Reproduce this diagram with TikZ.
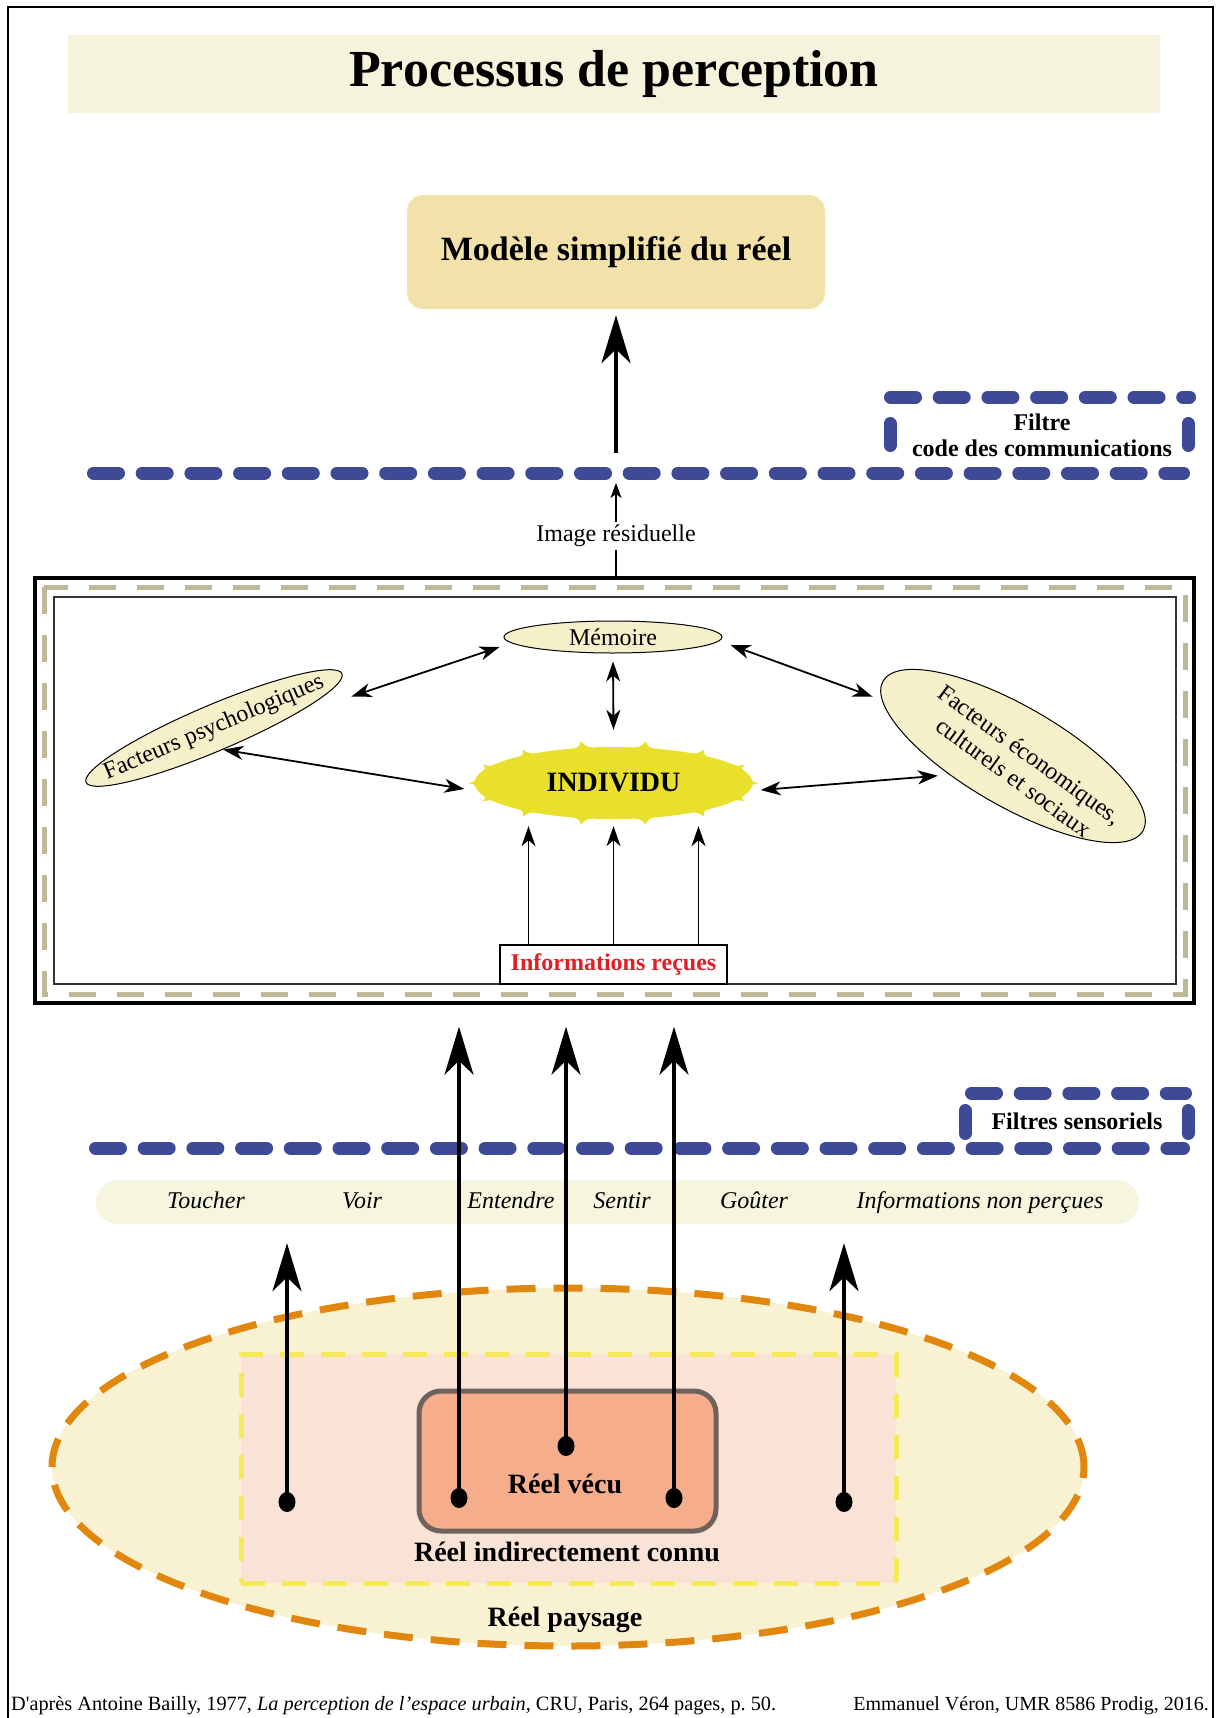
\documentclass[tikz,border=0pt]{standalone}
\usepackage{fontspec}
\setmainfont{Liberation Serif}
\usetikzlibrary{arrows.meta,shapes.geometric,calc}
\definecolor{titlebg}{HTML}{F6F3DC}
\definecolor{modelbg}{HTML}{F3E1AA}
\definecolor{filtblue}{HTML}{3E4A96}
\definecolor{framedash}{HTML}{BDB99A}
\definecolor{ellbg}{HTML}{F5F0C9}
\definecolor{indyel}{HTML}{E8E02A}
\definecolor{infored}{HTML}{E31E24}
\definecolor{sensebg}{HTML}{F6F6DF}
\definecolor{paysbg}{HTML}{F8F1D2}
\definecolor{paysline}{HTML}{E2870E}
\definecolor{indirbg}{HTML}{F9E2D6}
\definecolor{indirline}{HTML}{F7EA5A}
\definecolor{vecubg}{HTML}{F5AD8B}
\definecolor{veculine}{HTML}{6F625B}
\begin{document}
\begin{tikzpicture}[x=1pt,y=-1pt,
 txt/.style={font=\fontsize{24}{28}\selectfont, inner sep=0pt},
 btxt/.style={font=\fontsize{24}{26}\selectfont\bfseries, inner sep=0pt, align=center},
 bigtxt/.style={font=\fontsize{28}{32}\selectfont\bfseries, inner sep=0pt},
 filt/.style={line width=13pt, filtblue, dash pattern=on 25pt off 23.7pt, line cap=round},
 filtv/.style={line width=13pt, filtblue, line cap=round},
 bigarrow/.style={line width=3.5pt, -{Stealth[length=48pt,width=29pt,inset=14pt]}},
 dblarrow/.style={line width=1.8pt, {Stealth[length=20pt,width=14pt,inset=6pt]}-{Stealth[length=20pt,width=14pt,inset=6pt]}},
 uparrow/.style={line width=1.5pt, -{Stealth[length=20pt,width=14pt,inset=6pt]}},
 ell/.style={ellipse, draw, line width=1pt, fill=ellbg, inner sep=0pt, font=\fontsize{24}{28}\selectfont},
 blackdot/.style={ellipse, fill=black, minimum width=17pt, minimum height=20pt, inner sep=0pt},
 sense/.style={font=\fontsize{24}{28}\selectfont\itshape, inner sep=0pt, anchor=base},
]
\useasboundingbox (0,0) rectangle (1216,1718);
% outer frame
\draw[line width=2pt] (8,1718) -- (8,7) -- (1213,7) -- (1213,1718);

% title
\node[fill=titlebg, minimum width=1092pt, minimum height=78pt, inner sep=0pt,
      font=\fontsize{52}{56}\selectfont\bfseries] (title) at (614,74) {Processus de perception};

% model
\node[fill=modelbg, rounded corners=16pt, minimum width=418pt, minimum height=114pt, inner sep=0pt,
      font=\fontsize{34}{38}\selectfont\bfseries] (model) at (616,252) {Modèle simplifié du réel};

% upper filter
\draw[filt] (93.5,473) -- (1183.5,473);
\draw[filt] (890.5,397) -- (1189.5,397);
\draw[filtv] (890,423.5) -- (890,445.5);
\draw[filtv] (1188,423.5) -- (1188,445.5);
\node[btxt] (filtre) at (1042,435) {Filtre\\code des communications};

\coordinate (resid) at (616,453);
\draw[line width=4.5pt, -{Stealth[length=48pt,width=29pt,inset=14pt]}, shorten >=6pt] (resid) -- (model.south);

\node[txt, inner sep=3pt] (img) at (616,536) {Image résiduelle};
\coordinate (imgtip) at (616,483);
\draw[line width=1.3pt, -{Stealth[length=15pt,width=11pt,inset=4pt]}] (img.north) -- (imgtip);

% big frame
\node[draw, line width=3.5pt, minimum width=1159pt, minimum height=425pt, inner sep=0pt] (frame) at (614.5,790.5) {};
\draw[framedash, line width=5pt, dash pattern=on 27pt off 21pt] (44,587) rectangle (1185,994);
\draw[line width=1.8pt, black!80] (54,597) rectangle (1176,984);
\draw[line width=1.3pt] (img.south) -- (img.south |- frame.north);

% ellipses
\node[ell, minimum width=218pt, minimum height=32pt] (mem) at (613,637) {Mémoire};
\node[ell, minimum width=278pt, minimum height=46pt, rotate=23] (psych) at (214,728) {};
\node[txt, rotate=23] (psychtext) at (psych.center) {Facteurs psychologiques};
\node[ell, minimum width=300pt, minimum height=100pt, rotate=-30] (eco) at (1013,756) {};
\node[txt, align=center, rotate=-36] (ecotext) at (1022,766) {Facteurs économiques,\\culturels et sociaux};

% individu
\fill[indyel] plot[domain=0:360, samples=721]
  ({613.5+(139+7*(1-abs(sin(7*\x)))^6)*cos(\x)}, {783+(36+7*(1-abs(sin(7*\x)))^6)*sin(\x)}) -- cycle;
\node[ellipse, minimum width=290pt, minimum height=86pt, bigtxt] (ind) at (613.5,783) {INDIVIDU};

% informations reçues
\node[draw, line width=1.5pt, fill=white, minimum width=227pt, minimum height=39pt, inner sep=0pt,
      font=\fontsize{24}{26}\selectfont\bfseries, text=infored] (info) at (613.5,964.5) {Informations reçues};

\draw[dblarrow] ($(psych.east)+(9,23)$) -- ($(mem.west)+(-4,10)$);
\draw[dblarrow] (psych.south) -- ($(ind.west)+(-4,6)$);
\draw[dblarrow] ($(mem.south)+(0,8)$) -- ($(ind.north)+(0,-10)$);
\draw[dblarrow] ($(mem.east)+(8,8)$) -- ($(eco.west)+(-10,16)$);
\draw[dblarrow] ($(ind.east)+(2,7)$) -- ($(eco.south)+(-50,-24)$);
\foreach \dx in {-85,0,85}
  \draw[uparrow] ($(info.north)+(\dx,0)$) -- ($(ind.south)+(\dx,0)$);

% lower part: réel
\node[ellipse, draw=paysline, fill=paysbg, line width=7pt, dash pattern=on 29pt off 18pt,
      minimum width=1032pt, minimum height=358pt, inner sep=0pt] (paysage) at (568,1467) {};
\node[draw=indirline, fill=indirbg, line width=5pt, dash pattern=on 24pt off 17pt,
      minimum width=655pt, minimum height=229pt, inner sep=0pt] (indir) at (568.5,1468.5) {};
\node[draw=veculine, fill=vecubg, line width=5pt, rounded corners=22pt,
      minimum width=297pt, minimum height=140pt, inner sep=0pt] (vecu) at (567.5,1461) {};
\node[bigtxt] (lvecu) at (565,1484) {Réel vécu};
\node[bigtxt] (lindir) at (567,1552) {Réel indirectement connu};
\node[bigtxt] (lpays) at (565,1620) {Réel paysage};

% senses band
\node[fill=sensebg, rounded corners=22pt, minimum width=1043pt, minimum height=44pt, inner sep=0pt] (senses) at (617.5,1202) {};
\node[sense] (toucher) at (206,1208) {Toucher};
\node[sense] (voir) at (362,1208) {Voir};
\node[sense] (entendre) at (511,1208) {Entendre};
\node[sense] (sentir) at (622,1208) {Sentir};
\node[sense] (gouter) at (754,1208) {Goûter};
\node[sense] (nonperc) at (980,1208) {Informations non perçues};

% sensory filter
\draw[filt] (95.5,1148) -- (1183.5,1148);
\draw[filt] (971.5,1093) -- (1185.5,1093);
\draw[filtv] (965,1110.5) -- (965,1133.5);
\draw[filtv] (1188,1110.5) -- (1188,1133.5);
\node[btxt] (fsens) at (1077,1121) {Filtres sensoriels};

% dots and arrows
\coordinate (p1) at (459,1498);
\coordinate (p2) at (566,1446);
\coordinate (p3) at (674,1498);
\coordinate (p4) at (287,1502);
\coordinate (p5) at (844,1502);
\draw[bigarrow, shorten >=22pt] (p1) -- (p1 |- frame.south);
\draw[bigarrow, shorten >=22pt] (p2) -- (p2 |- frame.south);
\draw[bigarrow, shorten >=22pt] (p3) -- (p3 |- frame.south);
\draw[bigarrow, shorten >=19pt] (p4) -- (p4 |- senses.south);
\draw[bigarrow, shorten >=19pt] (p5) -- (p5 |- senses.south);
\node[blackdot] (d1) at (p1) {};
\node[blackdot] (d2) at (p2) {};
\node[blackdot] (d3) at (p3) {};
\node[blackdot] (d4) at (p4) {};
\node[blackdot] (d5) at (p5) {};

% footer
\node[anchor=base west, inner sep=0pt, font=\fontsize{20.3}{24}\selectfont] (src) at (11,1710)
  {D\textquotesingle après Antoine Bailly, 1977, \textit{La perception de l’espace urbain}, CRU, Paris, 264 pages, p.~50.};
\node[anchor=base east, inner sep=0pt, font=\fontsize{20}{24}\selectfont] (author) at (1209,1710)
  {Emmanuel Véron, UMR 8586 Prodig, 2016.};
\end{tikzpicture}
\end{document}
